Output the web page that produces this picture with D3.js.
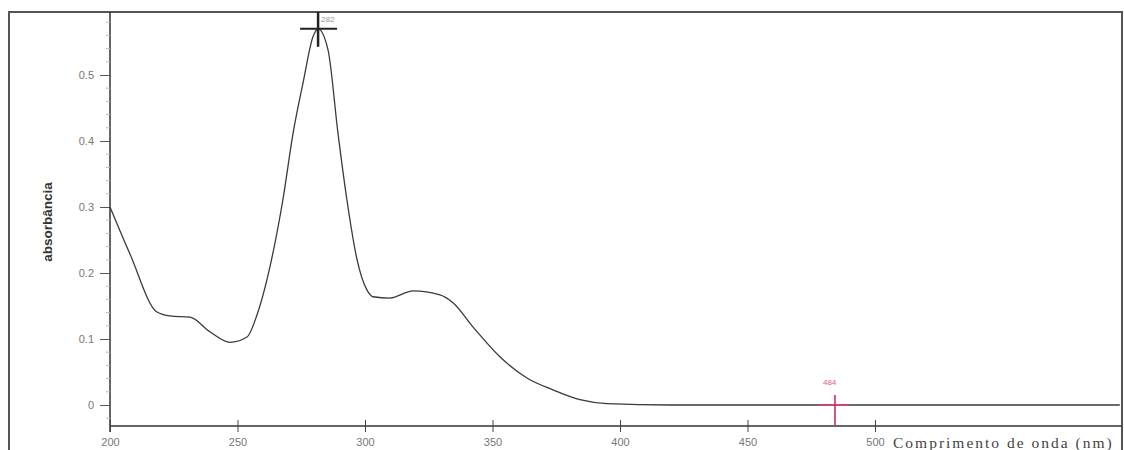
<!DOCTYPE html>
<html>
<head>
<meta charset="utf-8">
<script src="https://cdn.jsdelivr.net/npm/d3@7"></script>
<style>
  html, body { margin: 0; padding: 0; background: #fff; }
  svg { display: block; }
</style>
</head>
<body>
<script>
// UV-Vis absorption spectrum
const wavelength = [200, 207.8, 218.4, 223.5, 231.4, 239.2, 247.1, 253.7, 257.6, 262.7, 267.8, 271.8, 275.7, 279.6, 281.6, 285.5, 289.4, 292.9, 296.9, 300.8, 303.1, 309.8, 318.8, 329.4, 334.5, 342.4, 352.9, 363.5, 373.7, 384.3, 394.9, 420, 460, 500, 540, 580, 596];
const absorbance = [0.300, 0.229, 0.141, 0.135, 0.133, 0.111, 0.095, 0.103, 0.136, 0.209, 0.311, 0.412, 0.488, 0.558, 0.570, 0.538, 0.412, 0.311, 0.220, 0.174, 0.164, 0.162, 0.173, 0.167, 0.155, 0.118, 0.073, 0.041, 0.023, 0.008, 0.002, 0, 0, 0, 0, 0, 0];

const xTicks = [200, 250, 300, 350, 400, 450, 500];
const yTicks = [0, 0.1, 0.2, 0.3, 0.4, 0.5];
const yTickLabels = ["0", "0.1", "0.2", "0.3", "0.4", "0.5"];

// peak picks
const peakMain = { wl: 281.6, abs: 0.570, label: "282" };
const peakMarker = { wl: 484.3, abs: 0, label: "484" };

const W = 1124, H = 450;
const svg = d3.select("body").append("svg").attr("width", W).attr("height", H);

const x = d3.scaleLinear().domain([200, 500]).range([110, 875]);
const y = d3.scaleLinear().domain([0, 0.5]).range([405, 75]);

// outer frame
svg.append("rect")
  .attr("x", 9).attr("y", 12).attr("width", W - 11).attr("height", H + 10)
  .attr("fill", "none").attr("stroke", "#555").attr("stroke-width", 2);

// axis lines
const xAxisY = 426;
svg.append("line").attr("x1", 110).attr("x2", W - 2).attr("y1", xAxisY).attr("y2", xAxisY)
  .attr("stroke", "#333").attr("stroke-width", 1.5);
svg.append("line").attr("x1", 110).attr("x2", 110).attr("y1", 12).attr("y2", 432)
  .attr("stroke", "#333").attr("stroke-width", 1.5);

// y ticks
const yAxis = d3.axisLeft(y).tickValues(yTicks).tickSize(10).tickPadding(6)
  .tickFormat((d, i) => yTickLabels[i]);
const gy = svg.append("g").attr("transform", "translate(110,0)").call(yAxis);
gy.select(".domain").remove();
gy.selectAll(".tick line").attr("stroke", "#555");
gy.selectAll(".tick text").attr("fill", "#777").attr("font-family", "Liberation Sans, Arial, sans-serif").attr("font-size", 11);

// y minor ticks
const yMinor = d3.range(-0.02, 0.59, 0.02).filter(v => Math.abs(Math.round(v * 10) / 10 - v) > 1e-6);
svg.append("g").selectAll("line").data(yMinor).join("line")
  .attr("x1", 106).attr("x2", 110)
  .attr("y1", d => y(d)).attr("y2", d => y(d))
  .attr("stroke", "#bbb");

// x ticks
const xAxis = d3.axisBottom(x).tickValues(xTicks).tickSize(6).tickPadding(6).tickFormat(d3.format("d"));
const gx = svg.append("g").attr("transform", `translate(0,${xAxisY})`).call(xAxis);
gx.select(".domain").remove();
gx.selectAll(".tick line").attr("stroke", "#444").attr("y1", -6);
gx.selectAll(".tick text").attr("fill", "#777").attr("font-family", "Liberation Sans, Arial, sans-serif").attr("font-size", 11);

// axis titles
svg.append("text")
  .attr("transform", "translate(52,222) rotate(-90)")
  .attr("text-anchor", "middle")
  .attr("font-family", "Liberation Sans, Arial, sans-serif")
  .attr("font-weight", "bold").attr("font-size", 13.5).attr("fill", "#333")
  .text("absorbância");
svg.append("text")
  .attr("x", 893).attr("y", 448)
  .attr("font-family", "Liberation Serif, Times New Roman, serif")
  .attr("font-size", 15.5).attr("letter-spacing", 2).attr("fill", "#444")
  .text("Comprimento de onda (nm)");

// spectrum
const line = d3.line().x((d, i) => x(wavelength[i])).y((d, i) => y(absorbance[i])).curve(d3.curveMonotoneX);
svg.append("path")
  .datum(absorbance)
  .attr("d", line)
  .attr("fill", "none").attr("stroke", "#3a3a3a").attr("stroke-width", 1.3);

// main peak marker
const px = x(peakMain.wl), py = y(peakMain.abs);
svg.append("line").attr("x1", px - 18).attr("x2", px + 19).attr("y1", py).attr("y2", py)
  .attr("stroke", "#222").attr("stroke-width", 2);
svg.append("line").attr("x1", px).attr("x2", px).attr("y1", 12).attr("y2", py + 18)
  .attr("stroke", "#222").attr("stroke-width", 2.5);
svg.append("text").attr("x", px + 3).attr("y", 22)
  .attr("font-family", "Liberation Sans, Arial, sans-serif").attr("font-size", 8).attr("fill", "#999")
  .text(peakMain.label);

// secondary marker
const mx = x(peakMarker.wl), my = y(peakMarker.abs);
svg.append("line").attr("x1", mx - 16).attr("x2", mx + 14).attr("y1", my).attr("y2", my)
  .attr("stroke", "#e0406e").attr("stroke-width", 2).attr("opacity", 0.8);
svg.append("line").attr("x1", mx).attr("x2", mx).attr("y1", my - 10).attr("y2", my + 20)
  .attr("stroke", "#c03060").attr("stroke-width", 2).attr("opacity", 0.8);
svg.append("text").attr("x", mx - 12).attr("y", my - 20)
  .attr("font-family", "Liberation Sans, Arial, sans-serif").attr("font-size", 8).attr("fill", "#e06080")
  .text(peakMarker.label);
</script>
</body>
</html>
